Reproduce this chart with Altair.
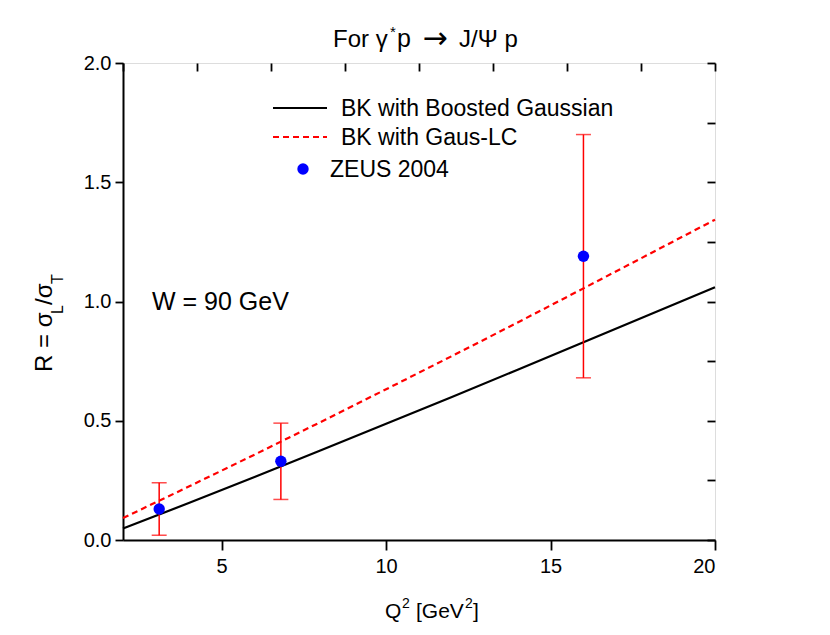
import altair as alt
import pandas as pd

FONT = "Liberation Sans"

# ---- data ----
q2_curve = [2, 4, 6, 8, 10, 12, 14, 16, 18, 20]
r_boosted = [0.048, 0.155, 0.264, 0.375, 0.487, 0.600, 0.714, 0.829, 0.944, 1.060]
r_gauslc = [0.092, 0.224, 0.358, 0.494, 0.632, 0.771, 0.912, 1.055, 1.199, 1.343]

zeus_q2 = [3.1, 6.8, 16.0]
zeus_r = [0.13, 0.33, 1.19]
zeus_lo = [0.02, 0.17, 0.68]
zeus_hi = [0.24, 0.49, 1.70]

series_names = ["BK with Boosted Gaussian", "BK with Gaus-LC", "ZEUS 2004"]

x_ticks = [5, 10, 15, 20]
y_ticks = [0.0, 0.5, 1.0, 1.5, 2.0]
top_ticks = [2, 4.25, 6.5, 8.75, 11, 13.25, 15.5, 17.75, 20]
right_ticks = [0, 0.25, 0.5, 0.75, 1.0, 1.25, 1.5, 1.75, 2.0]

XDOM = [2, 20]
YDOM = [0, 2]

curves = pd.DataFrame({"q2": q2_curve, "boosted": r_boosted, "gauslc": r_gauslc})
zeus = pd.DataFrame({"q2": zeus_q2, "r": zeus_r, "lo": zeus_lo, "hi": zeus_hi})
one = pd.DataFrame({"a": [0]})

xs = alt.Scale(domain=XDOM, nice=False, zero=False)
ys = alt.Scale(domain=YDOM, nice=False, zero=False)

x_main = alt.X("q2:Q", scale=xs, title=None,
               axis=alt.Axis(orient="bottom", values=x_ticks, tickSize=10, tickWidth=1.8,
                             labelFontSize=20, labelPadding=6, labelFont=FONT,
                             domainColor="black", domainWidth=2, tickColor="black",
                             labelColor="black", grid=False))

black_line = alt.Chart(curves).mark_line(color="black", strokeWidth=2.2).encode(
    x=x_main,
    y=alt.Y("boosted:Q", scale=ys, title=None,
            axis=alt.Axis(orient="left", values=y_ticks, format=".1f", tickSize=8, tickWidth=1.8,
                          labelFontSize=20, labelPadding=4, labelFont=FONT,
                          domainColor="black", domainWidth=2, tickColor="black",
                          labelColor="black", grid=False)),
)

red_line = alt.Chart(curves).mark_line(color="#ff0000", strokeWidth=2.2, strokeDash=[6, 4]).encode(
    x=alt.X("q2:Q", scale=xs, axis=None),
    y=alt.Y("gauslc:Q", scale=ys, axis=None),
)

# mirror axes with inward ticks
mirror = alt.Chart(curves).mark_point(opacity=0).encode(
    x=alt.X("q2:Q", scale=xs, title=None,
            axis=alt.Axis(orient="top", values=top_ticks, tickSize=8, offset=-8, labels=False,
                          domain=False, tickColor="black", tickWidth=1.8, grid=False)),
    y=alt.Y("boosted:Q", scale=ys, title=None,
            axis=alt.Axis(orient="right", values=right_ticks, tickSize=8, offset=-8, labels=False,
                          domain=False, tickColor="black", tickWidth=1.8, grid=False)),
)

err_rule = alt.Chart(zeus).mark_rule(color="#ff0000", strokeWidth=1.5).encode(
    x=alt.X("q2:Q", scale=xs, axis=None),
    y=alt.Y("lo:Q", scale=ys, axis=None),
    y2="hi:Q",
)
cap_lo = alt.Chart(zeus).mark_tick(color="#ff0000", orient="horizontal", size=15, thickness=1.5).encode(
    x=alt.X("q2:Q", scale=xs, axis=None),
    y=alt.Y("lo:Q", scale=ys, axis=None),
)
cap_hi = alt.Chart(zeus).mark_tick(color="#ff0000", orient="horizontal", size=15, thickness=1.5).encode(
    x=alt.X("q2:Q", scale=xs, axis=None),
    y=alt.Y("hi:Q", scale=ys, axis=None),
)
points = alt.Chart(zeus).mark_circle(color="#0000ff", size=130, opacity=1).encode(
    x=alt.X("q2:Q", scale=xs, axis=None),
    y=alt.Y("r:Q", scale=ys, axis=None),
)


def txt(s, x, y, size, angle=0, align="left", baseline="alphabetic", font=FONT):
    return alt.Chart(one).mark_text(text=s, fontSize=size, angle=angle, align=align,
                                    baseline=baseline, font=font, color="black").encode(
        x=alt.value(x), y=alt.value(y))


# legend
leg_black = alt.Chart(one).mark_rule(color="black", strokeWidth=2.2).encode(
    x=alt.value(150), x2=alt.value(204), y=alt.value(45))
leg_red = alt.Chart(one).mark_rule(color="#ff0000", strokeWidth=2.2, strokeDash=[6, 4]).encode(
    x=alt.value(150), x2=alt.value(204), y=alt.value(74))
leg_dot = alt.Chart(one).mark_circle(color="#0000ff", size=130, opacity=1).encode(
    x=alt.value(180), y=alt.value(106))

texts = [
    txt(series_names[0], 218, 46, 23, baseline="middle"),
    txt(series_names[1], 218, 75, 23, baseline="middle"),
    txt(series_names[2], 207, 107, 23, baseline="middle"),
    txt("W = 90 GeV", 29, 247, 25),
    # title
    txt("For \u03b3", 210, -16, 24),
    txt("*", 267, -26, 15),
    txt("p", 274, -16, 25),
    txt("\u2192", 312, -15, 30, align="center", font="DejaVu Sans"),
    txt("J/\u03a8 p", 336, -16, 24),
    # x title
    txt("Q", 262, 555, 21),
    txt("2", 279, 545, 14),
    txt("[GeV", 293, 555, 21),
    txt("2", 342, 545, 14),
    txt("]", 350, 555, 21),
    # y title
    txt("R = \u03c3", -71, 309, 24, angle=270),
    txt("L", -60, 251, 16, angle=270),
    txt("/\u03c3", -71, 242, 24, angle=270),
    txt("T", -60, 221, 16, angle=270),
]

chart = alt.layer(
    mirror, black_line, red_line, err_rule, cap_lo, cap_hi, points,
    leg_black, leg_red, leg_dot, *texts
).resolve_axis(x="independent", y="independent").properties(
    width=592, height=477,
    autosize=alt.AutoSizeParams(type="none"),
    padding={"left": 115, "top": 55, "right": 100, "bottom": 85},
).configure_view(stroke="black", strokeWidth=2).configure(background="white")

chart.save("out.html", embed_options={"renderer": "svg", "actions": False})
